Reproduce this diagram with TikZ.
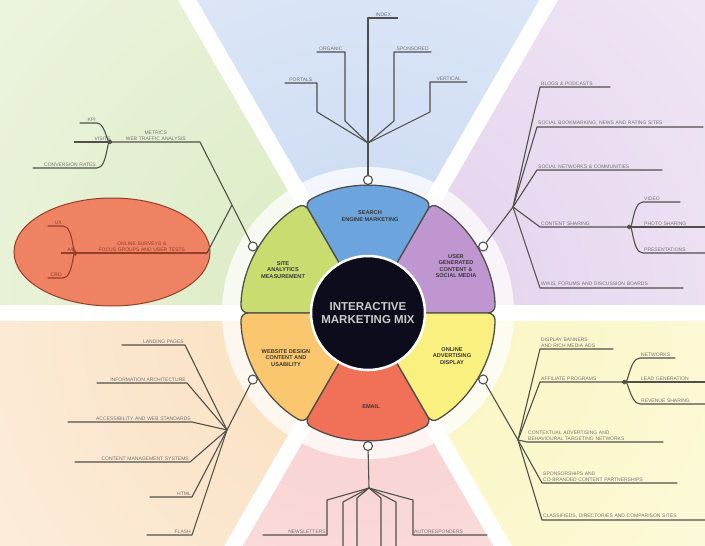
\documentclass[tikz,border=0pt]{standalone}
\usepackage{fontspec}
\setmainfont{Liberation Sans}
\usetikzlibrary{calc, positioning, shapes.geometric}

\definecolor{segblue}{RGB}{108,164,222}
\definecolor{segpurple}{RGB}{192,150,208}
\definecolor{segyellow}{RGB}{250,240,128}
\definecolor{segred}{RGB}{240,112,88}
\definecolor{segorange}{RGB}{250,198,110}
\definecolor{seggreen}{RGB}{200,220,112}
\definecolor{bgblue}{RGB}{200,216,242}
\definecolor{bgpurple}{RGB}{226,208,236}
\definecolor{bgyellow}{RGB}{250,245,190}
\definecolor{bgred}{RGB}{248,205,205}
\definecolor{bgorange}{RGB}{250,222,188}
\definecolor{bggreen}{RGB}{218,234,192}
\definecolor{linegray}{RGB}{80,80,74}
\definecolor{ovalfill}{RGB}{238,130,98}
\definecolor{ovalline}{RGB}{150,62,44}
\definecolor{coreblack}{RGB}{12,12,28}

\tikzset{
  branch/.style={draw=linegray, line width=1.1pt, line join=round},
  lbl/.style={font=\fontsize{5}{5.8}\selectfont, text=black!55, inner xsep=1pt, inner ysep=1.2pt},
  lblL/.style={lbl, text width=#1, align=left},
  lblR/.style={lbl, text width=#1, align=right},
  lblC/.style={lbl, text width=#1, align=center},
  seglbl/.style={font=\fontsize{5.6}{6.6}\selectfont\bfseries, text=black!78, align=center},
  knob/.style={circle, draw=linegray, fill=white, line width=1.1pt, minimum size=9pt, inner sep=0pt},
}

\begin{document}
\begin{tikzpicture}[x=1pt, y=-1pt]
\useasboundingbox (0,0) rectangle (705,546);
\clip (0,0) rectangle (705,546);
\coordinate (c) at (368,313);

% pale background wedges
\foreach \a/\col in {0/bgpurple, 60/bgblue, 120/bggreen, 180/bgorange, 240/bgred, 300/bgyellow} {
  \begin{scope}
    \clip (c) -- ($(c)+(-\a:700)$) -- ($(c)+({-\a-60}:700)$) -- cycle;
    \shade[inner color=\col, outer color=white] (c) circle (1000);
  \end{scope}
}
\foreach \a in {0,60,...,300}
  \draw[white, line width=16pt] (c) -- ($(c)+(-\a:700)$);
\fill[white, opacity=0.75] (c) circle (146);

% ring segments
\foreach \a/\col in {0/segpurple, 60/segblue, 120/seggreen, 180/segorange, 240/segred, 300/segyellow} {
  \begin{scope}[shift={($(c)+({-\a-30}:6)-(c)$)}]
    \draw[fill=\col, draw=linegray, line width=1.3pt, rounded corners=7pt]
      ($(c)+(-\a:44)$) -- ($(c)+(-\a:127)$)
      arc[start angle=-\a, end angle={-\a-60}, radius=127]
      -- ($(c)+({-\a-60}:44)$)
      arc[start angle={-\a-60}, end angle=-\a, radius=44] -- cycle;
  \end{scope}
}

% hub
\node[circle, fill=coreblack, draw=white, line width=2.5pt, minimum size=114pt,
      font=\fontsize{11.5}{13.5}\selectfont\bfseries, text=white!80!black, align=center]
  (core) at (c) {INTERACTIVE\\MARKETING MIX};

\node[seglbl] (sBlue) at (370,216) {SEARCH\\ENGINE MARKETING};
\node[seglbl] (sPurple) at (456,266) {USER\\GENERATED\\CONTENT \&\\SOCIAL MEDIA};
\node[seglbl] (sYellow) at (452,356) {ONLINE\\ADVERTISING\\DISPLAY};
\node[seglbl] (sRed) at (371,407) {EMAIL};
\node[seglbl] (sOrange) at (286,358) {WEBSITE DESIGN\\CONTENT AND\\USABILITY};
\node[seglbl] (sGreen) at (283,270) {SITE\\ANALYTICS\\MEASUREMENT};

% knobs on the rim
\node[knob] (kBlue) at ($(c)+(-90:133)$) {};
\node[knob] (kPurple) at ($(c)+(-30:133)$) {};
\node[knob] (kYellow) at ($(c)+(30:133)$) {};
\node[knob] (kRed) at ($(c)+(90:133)$) {};
\node[knob] (kOrange) at ($(c)+(150:133)$) {};
\node[knob] (kGreen) at ($(c)+(-150:133)$) {};

% top tree
\coordinate (jT) at (368,143);
\node[lblC=30pt, anchor=south east] (t1) at (317,83) {PORTALS};
\node[lblC=26pt, anchor=south east] (t2) at (345,52) {ORGANIC};
\node[lblC=28pt, anchor=south west] (t3) at (368,18) {INDEX};
\node[lblC=35pt, anchor=south west] (t4) at (394,52) {SPONSORED};
\node[lblC=35pt, anchor=south west] (t5) at (430,82) {VERTICAL};
\draw[branch] (kBlue) -- (jT);
\draw[branch] (jT) -- (317,112) -- (t1.south east) -- (t1.south west);
\draw[branch] (jT) -- (345,121) -- (t2.south east) -- (t2.south west);
\draw[branch] (jT) -- (t3.south west) -- (t3.south east);
\draw[branch] (jT) -- (394,121) -- (t4.south west) -- (t4.south east);
\draw[branch] (jT) -- (430,112) -- (t5.south west) -- (t5.south east);

% upper left tree and oval
\node[ellipse, draw=ovalline, fill=ovalfill, line width=1pt, minimum width=196pt, minimum height=108pt] (oval) at (112,252) {};
\coordinate (jG) at (232,205);
\node[lblC=86pt, anchor=south east] (g1) at (200,142) {METRICS\\WEB TRAFFIC ANALYSIS};
\node[lblR=15pt, anchor=south east] (g1a) at (97,123) {KPI};
\node[lblR=35pt, anchor=south east] (g1b) at (g1.south west) {VISITS};
\node[lblR=62pt, anchor=south east] (g1c) at (97,168) {CONVERSION RATES};
\draw[branch] (kGreen) -- (jG) -- (g1.south east) -- (g1.south west);
\draw[branch] (g1.south west) to[out=-115, in=0] (g1a.south east) -- (g1a.south west);
\draw[branch] (g1.south west) -- (g1b.south west);
\draw[branch] (g1.south west) to[out=115, in=0] (g1c.south east) -- (g1c.south west);

\node[lblC=128pt, text=ovalline, anchor=south east] (e0) at (207,253) {ONLINE SURVEYS \&\\FOCUS GROUPS AND USER TESTS};
\node[lblR=13pt, text=ovalline, anchor=south east] (e1) at (63,226) {UX};
\node[lblR=13pt, text=ovalline, anchor=south east] (e2) at (e0.south west) {A/B};
\node[lblR=13pt, text=ovalline, anchor=south east] (e3) at (63,278) {CRO};
\draw[branch] (jG) -- (e0.south east);
\draw[branch, draw=ovalline] (e0.south east) -- (e0.south west);
\draw[branch, draw=ovalline] (e0.south west) to[out=-110, in=0] (e1.south east) -- (e1.south west);
\draw[branch, draw=ovalline] (e0.south west) -- (e2.south west);
\draw[branch, draw=ovalline] (e0.south west) to[out=110, in=0] (e3.south east) -- (e3.south west);

% upper right tree
\coordinate (jP) at (513,207);
\node[lblL=68pt, anchor=south west] (p1) at (540,87) {BLOGS \& PODCASTS};
\node[lblL=164pt, anchor=south west] (p2) at (537,127) {SOCIAL BOOKMARKING, NEWS AND RATING SITES};
\node[lblL=123pt, anchor=south west] (p3) at (537,170) {SOCIAL NETWORKS \& COMMUNITIES};
\node[lblL=85pt, anchor=south west] (p4) at (540,227) {CONTENT SHARING};
\node[lblL=35pt, anchor=south west] (p4a) at (643,202) {VIDEO};
\node[lblL=60pt, anchor=south west] (p4b) at (643,227) {PHOTO SHARING};
\node[lblL=60pt, anchor=south west] (p4c) at (643,253) {PRESENTATIONS};
\node[lblL=141pt, anchor=south west] (p5) at (540,288) {WIKIS, FORUMS AND DISCUSSION BOARDS};
\draw[branch] (kPurple) -- (jP);
\foreach \n in {p1,p2,p3,p4,p5}
  \draw[branch] (jP) -- (\n.south west) -- (\n.south east);
\draw[branch] (p4.south east) to[out=-60, in=180] (p4a.south west) -- (p4a.south east);
\draw[branch] (p4.south east) -- (p4b.south west) -- (p4b.south east);
\draw[branch] (p4.south east) to[out=60, in=180] (p4c.south west) -- (p4c.south east);

% lower right tree
\coordinate (jY) at (518,440);
\node[lblL=71pt, anchor=south west] (y1) at (540,349) {DISPLAY BANNERS\\AND RICH MEDIA ADS};
\node[lblL=80pt, anchor=south west] (y2) at (540,382) {AFFILIATE PROGRAMS};
\node[lblL=33pt, anchor=south west] (y2a) at (640,358) {NETWORKS};
\node[lblL=63pt, anchor=south west] (y2b) at (640,382) {LEAD GENERATION};
\node[lblL=63pt, anchor=south west] (y2c) at (640,404) {REVENUE SHARING};
\node[lblL=134pt, anchor=south west] (y3) at (527,442) {CONTEXTUAL ADVERTISING AND\\BEHAVIOURAL TARGETING NETWORKS};
\node[lblL=133pt, anchor=south west] (y4) at (542,483) {SPONSORSHIPS AND\\CO-BRANDED CONTENT PARTNERSHIPS};
\node[lblL=161pt, anchor=south west] (y5) at (542,520) {CLASSIFIEDS, DIRECTORIES AND COMPARISON SITES};
\draw[branch] (kYellow) -- (jY);
\foreach \n in {y1,y2,y3,y4,y5}
  \draw[branch] (jY) -- (\n.south west) -- (\n.south east);
\draw[branch] (y2.south east) to[out=-60, in=180] (y2a.south west) -- (y2a.south east);
\draw[branch] (y2.south east) -- (y2b.south west) -- (y2b.south east);
\draw[branch] (y2.south east) to[out=60, in=180] (y2c.south west) -- (y2c.south east);

% lower left tree
\coordinate (jO) at (227,430);
\node[lblR=61pt, anchor=south east] (o1) at (185,345) {LANDING PAGES};
\node[lblR=88pt, anchor=south east] (o2) at (187,383) {INFORMATION ARCHITECTURE};
\node[lblR=122pt, anchor=south east] (o3) at (192,422) {ACCESSIBILITY AND WEB STANDARDS};
\node[lblR=113pt, anchor=south east] (o4) at (190,462) {CONTENT MANAGEMENT SYSTEMS};
\node[lblR=40pt, anchor=south east] (o5) at (192,497) {HTML};
\node[lblR=43pt, anchor=south east] (o6) at (192,535) {FLASH};
\draw[branch] (kOrange) -- (jO);
\foreach \n in {o1,o2,o3,o4,o5,o6}
  \draw[branch] (jO) -- (\n.south east) -- (\n.south west);

% bottom tree
\coordinate (jR) at (369,488);
\node[lblR=62pt, anchor=south east] (r1) at (327,535) {NEWSLETTERS};
\node[lblL=72pt, anchor=south west] (r2) at (413,535) {AUTORESPONDERS};
\coordinate (v1) at (343,548);
\coordinate (v2) at (357,548);
\coordinate (v3) at (381,548);
\coordinate (v4) at (396,548);
\draw[branch] (kRed) -- (jR);
\draw[branch] (jR) -- (327,500) -- (r1.south east) -- (r1.south west);
\draw[branch] (jR) -- (413,500) -- (r2.south west) -- (r2.south east);
\draw[branch] (jR) -- (343,502) -- (v1);
\draw[branch] (jR) -- (357,498) -- (v2);
\draw[branch] (jR) -- (381,498) -- (v3);
\draw[branch] (jR) -- (396,502) -- (v4);
\end{tikzpicture}
\end{document}
